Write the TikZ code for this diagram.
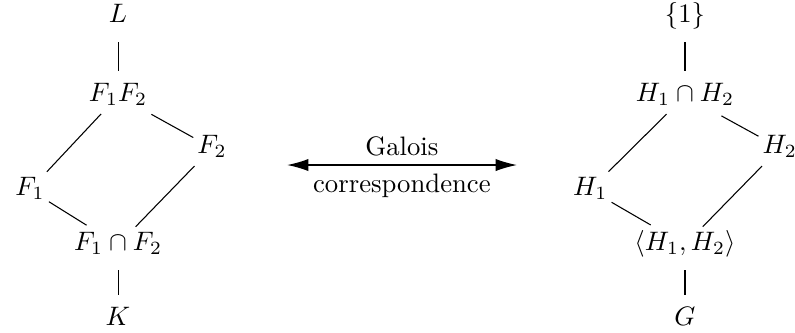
\documentclass[tikz,border=0pt]{standalone}
\usetikzlibrary{arrows.meta}
\begin{document}
\begin{tikzpicture}[x=1pt,y=1pt,
  obj/.style={inner sep=4pt, text height=7pt, text depth=2.5pt},
  link/.style={line width=0.4pt, shorten <=0.5pt, shorten >=0.5pt},
  diag/.style={line width=0.4pt, shorten <=-3pt, shorten >=-3pt},
  galois/.style={line width=0.5pt, {Latex[length=8pt,width=4.6pt]}-{Latex[length=8pt,width=4.6pt]}}]
\useasboundingbox (0,0) rectangle (297.7,124.7);
% left lattice
\node[obj] (L) at (44.2,118.4) {$L$};
\node[obj] (F12) at (44.2,88.8) {$F_1F_2$};
\node[obj] (F2) at (79.4,69.3) {$F_2$};
\node[obj] (F1) at (11.2,53.6) {$F_1$};
\node[obj] (Fcap) at (44.2,33.0) {$F_1\cap F_2$};
\node[obj] (K) at (44.2,4.9) {$K$};
\draw[link] (L) -- (F12);
\draw[diag] (F12) -- (F1);
\draw[diag] (F12) -- (F2);
\draw[diag] (F1) -- (Fcap);
\draw[diag] (F2) -- (Fcap);
\draw[link] (Fcap) -- (K);
% right lattice
\node[obj] (one) at (256.5,118.4) {$\{1\}$};
\node[obj] (Hcap) at (256.5,88.8) {$H_1\cap H_2$};
\node[obj] (H2) at (292.0,69.3) {$H_2$};
\node[obj] (H1) at (221.0,53.6) {$H_1$};
\node[obj] (Hgen) at (256.5,33.0) {$\langle H_1,H_2\rangle$};
\node[obj] (G) at (256.5,4.9) {$G$};
\draw[link] (one) -- (Hcap);
\draw[diag] (Hcap) -- (H1);
\draw[diag] (Hcap) -- (H2);
\draw[diag] (H1) -- (Hgen);
\draw[diag] (H2) -- (Hgen);
\draw[link] (Hgen) -- (G);
% arrow
\coordinate (aL) at (107.5,62.9);
\coordinate (aR) at (193.6,62.9);
\draw[galois] (aL) -- (aR);
\node[anchor=base] (gal) at (150.5,66.5) {Galois};
\node[anchor=base] (corr) at (150.5,52.5) {correspondence};
\end{tikzpicture}
\end{document}
